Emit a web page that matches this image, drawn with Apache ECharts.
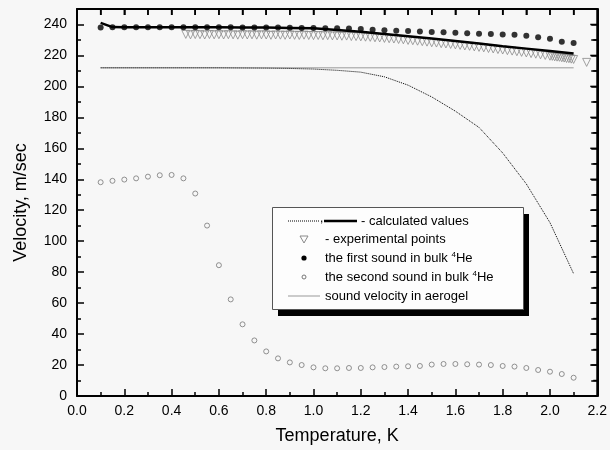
<!DOCTYPE html>
<html>
<head>
<meta charset="utf-8">
<script src="https://cdn.jsdelivr.net/npm/echarts@6/dist/echarts.min.js"></script>
<style>
html, body { margin: 0; padding: 0; background: #f7f7f7; }
#chart { width: 610px; height: 450px; }
</style>
</head>
<body>
<div id="chart"></div>
<script>
// calculated values, thick line (first sound in aerogel)
const calcT = [0.10, 0.15, 0.2, 0.3, 0.4, 0.5, 0.6, 0.7, 0.8, 0.9, 1.0, 1.1, 1.2, 1.3, 1.4, 1.5, 1.6, 1.7, 1.8, 1.9, 2.0, 2.1]
const calcV = [241.0, 238.3, 238.2, 238.2, 238.2, 238.2, 238.2, 238.1, 238.0, 237.8, 237.5, 236.5, 235.3, 233.9, 232.4, 230.9, 229.3, 227.7, 226.0, 224.4, 222.8, 221.2]

// calculated values, dotted line
const dotT = [0.1, 0.2, 0.3, 0.4, 0.5, 0.6, 0.7, 0.8, 0.9, 1.0, 1.1, 1.2, 1.3, 1.4, 1.5, 1.6, 1.7, 1.8, 1.9, 2.0, 2.1]
const dotV = [212.0, 212.0, 212.0, 212.0, 212.0, 212.0, 211.9, 211.8, 211.6, 211.2, 210.4, 209.2, 206.2, 200.8, 193.2, 184.0, 173.5, 157.0, 137.0, 112.0, 79.0]

// experimental points
const expT = [0.46, 0.48, 0.50, 0.52, 0.54, 0.56, 0.58, 0.60, 0.62, 0.64, 0.66, 0.68, 0.70, 0.72, 0.74, 0.76, 0.78, 0.80,
  0.82, 0.84, 0.86, 0.88, 0.90, 0.92, 0.94, 0.96, 0.98, 1.00, 1.02, 1.04, 1.06, 1.08, 1.10, 1.12, 1.14, 1.16, 1.18, 1.20,
  1.22, 1.24, 1.26, 1.28, 1.30, 1.32, 1.34, 1.36, 1.38, 1.40, 1.42, 1.44, 1.46, 1.48, 1.50, 1.52, 1.54, 1.56, 1.58, 1.60,
  1.62, 1.64, 1.66, 1.68, 1.70, 1.72, 1.74, 1.76, 1.78, 1.80, 1.82, 1.84, 1.86, 1.88, 1.90, 1.92, 1.94, 1.96, 1.98, 2.00,
  2.01, 2.02, 2.03, 2.04, 2.05, 2.06, 2.07, 2.08, 2.09, 2.10, 2.155]
const expV = [233.6, 233.3, 233.5, 233.4, 233.2, 233.5, 233.3, 233.4, 233.2, 233.4, 233.3, 233.1, 233.4, 233.2, 233.3, 233.1, 233.3, 233.2,
  233.0, 233.2, 233.1, 233.0, 233.2, 233.0, 232.9, 233.1, 232.9, 232.8, 232.9, 232.7, 232.8, 232.6, 232.6, 232.4, 232.5, 232.2, 232.2, 232.0,
  231.8, 231.7, 231.4, 231.3, 231.0, 230.8, 230.6, 230.3, 230.1, 229.7, 229.5, 229.2, 228.9, 228.6, 228.2, 228.0, 227.6, 227.4, 227.1, 226.8,
  226.5, 226.1, 225.9, 225.5, 225.2, 224.9, 224.5, 224.2, 223.8, 223.5, 223.1, 222.8, 222.4, 222.0, 221.6, 221.2, 220.8, 220.4, 220.0, 219.5,
  219.4, 219.1, 218.9, 218.8, 218.5, 218.3, 218.0, 217.9, 217.6, 217.4, 215.5]

// first and second sound in bulk 4He
const soundT = [0.10, 0.15, 0.20, 0.25, 0.30, 0.35, 0.40, 0.45, 0.50, 0.55, 0.60, 0.65, 0.70, 0.75, 0.80, 0.85, 0.90, 0.95, 1.00, 1.05, 1.10,
  1.15, 1.20, 1.25, 1.30, 1.35, 1.40, 1.45, 1.50, 1.55, 1.60, 1.65, 1.70, 1.75, 1.80, 1.85, 1.90, 1.95, 2.00, 2.05, 2.10]
const firstV = [238.0, 238.2, 238.2, 238.2, 238.2, 238.2, 238.2, 238.2, 238.2, 238.2, 238.2, 238.2, 238.1, 238.1, 238.0, 238.0, 237.9, 237.8, 237.7, 237.6, 237.5,
  237.4, 237.0, 236.6, 236.2, 236.0, 235.8, 235.5, 235.2, 234.9, 234.6, 234.3, 234.0, 233.8, 233.5, 233.3, 232.8, 231.8, 230.8, 228.8, 228.0]
const secondV = [138.1, 139.0, 139.8, 140.6, 141.7, 142.6, 142.8, 140.6, 130.8, 110.1, 84.5, 62.4, 46.3, 35.9, 28.8, 24.3, 21.7, 20.0, 18.5, 17.9, 17.9,
  18.1, 18.1, 18.5, 18.7, 19.0, 19.2, 19.4, 20.3, 20.7, 20.7, 20.5, 20.3, 20.0, 19.4, 19.0, 18.1, 16.8, 15.7, 14.2, 11.8]

// sound velocity in aerogel
const aeroT = [0.1, 2.1]
const aeroV = [212, 212]

const xTicks = [0.0, 2.2, 0.2]   // min, max, step
const yTicks = [0, 250, 20]

const pairs = (xs, ys) => xs.map((x, i) => [x, ys[i]])
const font = '"Liberation Sans", Arial, sans-serif'

const myChart = echarts.init(document.getElementById('chart'), null, { width: 610, height: 450 })

const frameLine = () => ({ show: true, onZero: false, lineStyle: { color: '#000', width: 2 } })
const tickStyle = () => ({ color: '#000', width: 1.5 })

// hand-made legend box with black drop shadow
const legendEls = [
  { type: 'rect', shape: { x: 278, y: 214, width: 251, height: 102 }, style: { fill: '#000' }, z: 100 },
  { type: 'rect', shape: { x: 272.5, y: 207.5, width: 251, height: 102 }, style: { fill: '#fdfdfd', stroke: '#555', lineWidth: 1 }, z: 101 },
  { type: 'line', shape: { x1: 288, y1: 221, x2: 320, y2: 221 }, style: { stroke: '#000', lineWidth: 1, lineDash: [1, 1] }, z: 102 },
  { type: 'text', style: { text: ',', x: 320, y: 219, font: '12px ' + font, fill: '#000', verticalAlign: 'middle' }, z: 102 },
  { type: 'line', shape: { x1: 324, y1: 221, x2: 357, y2: 221 }, style: { stroke: '#000', lineWidth: 2.5 }, z: 102 },
  { type: 'polygon', shape: { points: [[300, 236], [308, 236], [304, 243]] }, style: { fill: 'none', stroke: '#8a8a8a', lineWidth: 1 }, z: 102 },
  { type: 'circle', shape: { cx: 304, cy: 258, r: 2.6 }, style: { fill: '#000' }, z: 102 },
  { type: 'circle', shape: { cx: 304, cy: 277, r: 2 }, style: { fill: 'none', stroke: '#777', lineWidth: 1 }, z: 102 },
  { type: 'line', shape: { x1: 288, y1: 296, x2: 320, y2: 296 }, style: { stroke: '#999', lineWidth: 1 }, z: 102 },
  { type: 'text', style: { text: '- calculated values', x: 361, y: 221, font: '13px ' + font, fill: '#000', verticalAlign: 'middle' }, z: 102 },
  { type: 'text', style: { text: '- experimental points', x: 325, y: 239, font: '13px ' + font, fill: '#000', verticalAlign: 'middle' }, z: 102 },
  {
    type: 'text', z: 102,
    style: {
      text: 'the first sound in bulk {sup|4}He', x: 325, y: 258, font: '13px ' + font, fill: '#000', verticalAlign: 'middle',
      rich: { sup: { fontSize: 8, fontFamily: font, padding: [0, 0, 7, 0] } }
    }
  },
  {
    type: 'text', z: 102,
    style: {
      text: 'the second sound in bulk {sup|4}He', x: 325, y: 277, font: '13px ' + font, fill: '#000', verticalAlign: 'middle',
      rich: { sup: { fontSize: 8, fontFamily: font, padding: [0, 0, 7, 0] } }
    }
  },
  { type: 'text', style: { text: 'sound velocity in aerogel', x: 325, y: 296, font: '13px ' + font, fill: '#000', verticalAlign: 'middle' }, z: 102 }
]

const option = {
  animation: false,
  grid: { left: 77, right: 9, top: 9, bottom: 53 },
  xAxis: [
    {
      type: 'value', position: 'bottom', min: xTicks[0], max: xTicks[1], interval: xTicks[2],
      axisLine: frameLine(),
      axisTick: { show: true, inside: true, length: 7, lineStyle: tickStyle() },
      minorTick: { show: true, splitNumber: 2, length: 4, lineStyle: tickStyle() },
      splitLine: { show: false },
      axisLabel: { color: '#000', fontSize: 14, fontFamily: font, margin: 8, formatter: v => v.toFixed(1) },
      name: 'Temperature, K', nameLocation: 'middle', nameGap: 31,
      nameTextStyle: { color: '#000', fontSize: 18, fontFamily: font }
    },
    {
      type: 'value', position: 'top', min: xTicks[0], max: xTicks[1], interval: 0.1,
      axisLine: frameLine(),
      axisTick: { show: true, inside: true, length: 6, lineStyle: tickStyle() },
      splitLine: { show: false },
      axisLabel: { show: false }
    }
  ],
  yAxis: [
    {
      type: 'value', position: 'left', min: yTicks[0], max: yTicks[1], interval: yTicks[2],
      axisLine: frameLine(),
      axisTick: { show: true, inside: true, length: 7, lineStyle: tickStyle() },
      minorTick: { show: true, splitNumber: 2, length: 4, lineStyle: tickStyle() },
      splitLine: { show: false },
      axisLabel: { color: '#000', fontSize: 14, fontFamily: font, margin: 10, formatter: v => (v > 240 ? '' : String(v)) },
      name: 'Velocity, m/sec', nameLocation: 'middle', nameGap: 47,
      nameTextStyle: { color: '#000', fontSize: 18, fontFamily: font }
    },
    {
      type: 'value', position: 'right', min: yTicks[0], max: yTicks[1], interval: 10,
      axisLine: frameLine(),
      axisTick: { show: true, inside: true, length: 6, lineStyle: tickStyle() },
      splitLine: { show: false },
      axisLabel: { show: false }
    }
  ],
  series: [
    {
      name: 'aerogel', type: 'line', xAxisIndex: 1, yAxisIndex: 1, data: pairs(aeroT, aeroV), showSymbol: false,
      lineStyle: { color: '#999', width: 1 }
    },
    {
      name: 'calc dotted', type: 'line', data: pairs(dotT, dotV), showSymbol: false,
      lineStyle: { color: '#000', width: 1, type: [1, 1] }
    },
    {
      name: 'experimental', type: 'scatter', data: pairs(expT, expV),
      symbol: 'triangle', symbolRotate: 180, symbolSize: [8, 8],
      itemStyle: { color: 'transparent', borderColor: '#8a8a8a', borderWidth: 1 }
    },
    {
      name: 'calc solid', type: 'line', data: pairs(calcT, calcV), showSymbol: false,
      lineStyle: { color: '#000', width: 2.5 }
    },
    {
      name: 'first sound', type: 'scatter', data: pairs(soundT, firstV),
      symbol: 'circle', symbolSize: 6, itemStyle: { color: '#000' }
    },
    {
      name: 'second sound', type: 'scatter', data: pairs(soundT, secondV),
      symbol: 'circle', symbolSize: 5,
      itemStyle: { color: 'transparent', borderColor: '#777', borderWidth: 1 }
    }
  ],
  graphic: legendEls
}

myChart.setOption(option)

// top and right frame with inward ticks, placed through the chart's own scales
const toPx = (x, y) => myChart.convertToPixel({ xAxisIndex: 0, yAxisIndex: 0 }, [x, y])
const pxLo = toPx(xTicks[0], yTicks[0])
const pxHi = toPx(xTicks[1], yTicks[1])
const frameL = pxLo[0], frameB = pxLo[1], frameR = pxHi[0], frameT = pxHi[1]
const frameEls = [
  { type: 'line', shape: { x1: frameL, y1: frameT, x2: frameR, y2: frameT }, style: { stroke: '#000', lineWidth: 2 }, z: 50 },
  { type: 'line', shape: { x1: frameR, y1: frameT, x2: frameR, y2: frameB }, style: { stroke: '#000', lineWidth: 2 }, z: 50 }
]
for (let i = 1; i < 22; i++) {
  const px = toPx(i / 10, yTicks[1])[0]
  frameEls.push({ type: 'line', shape: { x1: px, y1: frameT, x2: px, y2: frameT + 6 }, style: { stroke: '#000', lineWidth: 1.5 }, z: 50 })
}
for (let v = 10; v < yTicks[1]; v += 10) {
  const py = toPx(xTicks[1], v)[1]
  const len = v % yTicks[2] === 0 ? 7 : 4
  frameEls.push({ type: 'line', shape: { x1: frameR, y1: py, x2: frameR - len, y2: py }, style: { stroke: '#000', lineWidth: 1.5 }, z: 50 })
}
myChart.setOption({ graphic: legendEls.concat(frameEls) })
</script>
</body>
</html>
